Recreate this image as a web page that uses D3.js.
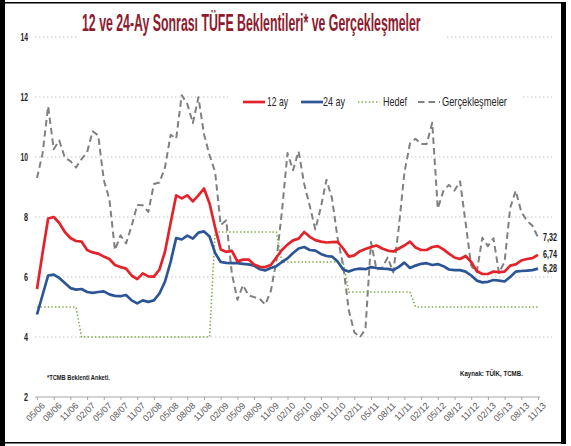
<!DOCTYPE html>
<html>
<head>
<meta charset="utf-8">
<script src="https://cdn.jsdelivr.net/npm/d3@7"></script>
<style>
  html, body { margin: 0; padding: 0; background: #fff; }
  svg { display: block; }
  text { font-family: "Liberation Sans Narrow", "Liberation Sans", Arial, sans-serif; }
</style>
</head>
<body>
<svg id="chart" width="571" height="446"></svg>
<script>
// x axis labels, one every 3 months starting at 05/06
const tickLabels = ["05/06", "08/06", "11/06", "02/07", "05/07", "08/07", "11/07", "02/08", "05/08", "08/08",
    "11/08", "02/09", "05/09", "08/09", "11/09", "02/10", "05/10", "08/10", "11/10", "02/11", "05/11",
    "08/11", "11/11", "02/12", "05/12", "08/12", "11/12", "02/13", "05/13", "08/13", "11/13"];
const yTicks = [2, 4, 6, 8, 10, 12, 14];

// monthly values, 05/06 .. 11/13
const beklenti12 = [5.6, 6.8, 7.95, 8.0, 7.8, 7.5, 7.3, 7.2, 7.18, 6.9, 6.82, 6.78, 6.68, 6.6, 6.4, 6.33,
    6.28, 6.05, 5.93, 6.12, 6.02, 6.01, 6.25, 6.85, 7.8, 8.72, 8.62, 8.72, 8.52, 8.72, 8.95, 8.45,
    7.65, 6.92, 6.84, 6.87, 6.52, 6.58, 6.58, 6.42, 6.34, 6.33, 6.4, 6.65, 6.9, 7.08, 7.22, 7.28,
    7.5, 7.34, 7.23, 7.18, 7.15, 7.16, 7.17, 6.95, 6.68, 6.72, 6.86, 6.93, 7.0, 7.05, 6.95, 6.88,
    6.85, 6.95, 7.05, 7.18, 6.98, 6.9, 6.9, 7.0, 7.03, 6.92, 6.78, 6.65, 6.6, 6.7, 6.5, 6.2,
    6.1, 6.1, 6.18, 6.16, 6.18, 6.38, 6.42, 6.55, 6.6, 6.63, 6.74];
const beklenti24 = [4.75, 5.4, 6.05, 6.08, 5.97, 5.8, 5.63, 5.58, 5.6, 5.5, 5.47, 5.5, 5.52, 5.42, 5.37, 5.36,
    5.4, 5.22, 5.12, 5.22, 5.17, 5.22, 5.45, 5.85, 6.5, 7.3, 7.25, 7.38, 7.28, 7.48, 7.52, 7.35,
    6.8, 6.5, 6.47, 6.46, 6.46, 6.44, 6.42, 6.38, 6.26, 6.22, 6.3, 6.36, 6.5, 6.62, 6.8, 6.95,
    7.0, 6.9, 6.88, 6.77, 6.7, 6.68, 6.52, 6.25, 6.18, 6.25, 6.28, 6.26, 6.33, 6.3, 6.28, 6.27,
    6.23, 6.34, 6.48, 6.3, 6.38, 6.44, 6.46, 6.4, 6.43, 6.36, 6.25, 6.23, 6.23, 6.18, 6.05, 5.88,
    5.82, 5.84, 5.9, 5.88, 5.85, 6.0, 6.18, 6.2, 6.21, 6.23, 6.28];
const hedef = [5, 5, 5, 5, 5, 5, 5, 5,
    4, 4, 4, 4, 4, 4, 4, 4, 4, 4, 4, 4, 4, 4, 4, 4, 4, 4, 4, 4, 4, 4, 4, 4,
    7.5, 7.5, 7.5, 7.5, 7.5, 7.5, 7.5, 7.5, 7.5, 7.5, 7.5, 7.5,
    6.5, 6.5, 6.5, 6.5, 6.5, 6.5, 6.5, 6.5, 6.5, 6.5, 6.5, 6.5,
    5.5, 5.5, 5.5, 5.5, 5.5, 5.5, 5.5, 5.5, 5.5, 5.5, 5.5, 5.5,
    5, 5, 5, 5, 5, 5, 5, 5, 5, 5, 5, 5, 5, 5, 5, 5, 5, 5, 5, 5, 5, 5, 5];
const gerceklesme = [9.3, 10.12, 11.69, 10.26, 10.55, 9.98, 9.86, 9.65,
    9.93, 10.16, 10.86, 10.72, 9.23, 8.6, 6.9, 7.39, 7.12, 7.7, 8.4, 8.39,
    8.17, 9.1, 9.15, 9.66, 10.74, 10.61, 12.06, 11.77, 11.13, 11.99, 10.76, 10.06,
    9.5, 7.73, 7.89, 6.13, 5.24, 5.73, 5.39, 5.33, 5.27, 5.08, 5.53, 6.53,
    8.19, 10.13, 9.56, 10.19, 9.1, 8.37, 7.58, 8.33, 9.24, 8.62, 7.29, 6.4,
    4.9, 4.16, 3.99, 4.26, 7.17, 6.24, 6.31, 6.65, 6.15, 7.66, 9.48, 10.45,
    10.61, 10.43, 10.43, 11.14, 8.28, 8.87, 9.07, 8.88, 9.19, 7.8, 6.37, 6.16,
    7.31, 7.03, 7.29, 6.13, 6.51, 8.3, 8.88, 8.17, 7.88, 7.71, 7.32];

const series = [
    {name: "12 ay", values: beklenti12, color: "#e3232b", width: 2.7, dash: null},
    {name: "24 ay", values: beklenti24, color: "#2c5596", width: 2.7, dash: null},
    {name: "Hedef", values: hedef, color: "#7da842", width: 1.6, dash: "1.4,2.2"},
    {name: "Gerçekleşmeler", values: gerceklesme, color: "#808080", width: 2, dash: "6.5,4"}
];

const svg = d3.select("#chart");
let x = d3.scaleLinear().domain([0, beklenti12.length - 1]).range([37, 538]);
let y = d3.scaleLinear().domain([2, 14]).range([397, 37]);

// the original picture is compressed sideways, so texts are squeezed to fit a width
function fitWidth(sel, w) {
    sel.each(function () {
        let t = d3.select(this);
        let len = this.getComputedTextLength();
        let k = (typeof w === "function" ? w.apply(this, arguments) : w) / len;
        let x0 = +t.attr("x"), y0 = +t.attr("y");
        t.attr("x", 0).attr("y", 0)
            .attr("transform", `translate(${x0},${y0}) scale(${k},1)`);
    });
}

svg.append("rect").attr("width", 571).attr("height", 446).attr("fill", "#fff");

// gridlines
svg.append("g").selectAll("line")
    .data(yTicks.filter(d => d > 2))
    .join("line")
    .attr("x1", 35).attr("x2", 552)
    .attr("y1", d => y(d)).attr("y2", d => y(d))
    .attr("stroke", "#c4c4c4")
    .attr("stroke-width", 1)
    .attr("stroke-dasharray", "1.5,2.5");

// x axis
let xAxis = svg.append("g")
    .attr("transform", `translate(0,${y(2)})`)
    .call(d3.axisBottom(x)
        .tickValues(d3.range(0, beklenti12.length, 3))
        .tickFormat((d, i) => tickLabels[i])
        .tickSize(3)
        .tickSizeOuter(0));
xAxis.select(".domain").remove();
xAxis.append("line").attr("x1", 35).attr("x2", 540).attr("stroke", "#a6a6a6");
xAxis.selectAll(".tick line").attr("stroke", "#a6a6a6");
xAxis.selectAll(".tick text")
    .attr("fill", "#595959")
    .style("font-size", "9px")
    .attr("text-anchor", "end")
    .attr("dy", "0.3em")
    .attr("transform", "translate(2,3) rotate(-45)");

// y axis labels
let yAxis = svg.append("g")
    .attr("transform", "translate(28,0)")
    .call(d3.axisLeft(y).tickValues(yTicks).tickSize(0).tickPadding(0));
yAxis.select(".domain").remove();
yAxis.selectAll(".tick text")
    .attr("fill", "#262626")
    .style("font-size", "10px")
    .style("font-weight", "bold")
    .attr("textLength", d => d >= 10 ? 7.5 : 4)
    .attr("lengthAdjust", "spacingAndGlyphs");

// series lines
let line = d3.line().x((d, i) => x(i)).y(d => y(d));
svg.append("g").selectAll("path")
    .data(series.slice().reverse())
    .join("path")
    .attr("d", d => line(d.values))
    .attr("fill", "none")
    .attr("stroke", d => d.color)
    .attr("stroke-width", d => d.width)
    .attr("stroke-dasharray", d => d.dash)
    .attr("stroke-linejoin", "round");

// end labels
let endData = [gerceklesme, beklenti12, beklenti24];
svg.append("g").selectAll("text")
    .data(endData)
    .join("text")
    .attr("x", 543)
    .attr("y", d => y(d[d.length - 1]))
    .attr("dy", "0.35em")
    .attr("fill", "#1a1a1a")
    .style("font-size", "10px")
    .style("font-weight", "bold")
    .text(d => d[d.length - 1].toFixed(2).replace(".", ","))
    .call(fitWidth, 14);

// title
svg.append("rect").attr("x", 77).attr("y", 6).attr("width", 370).attr("height", 36).attr("fill", "#fff");
svg.append("text")
    .attr("x", 82).attr("y", 31)
    .attr("fill", "#8e1b2f")
    .style("font-size", "23px")
    .style("font-weight", "bold")
    .text("12 ve 24-Ay Sonrası TÜFE Beklentileri* ve Gerçekleşmeler")
    .call(fitWidth, 339);

// legend
const legendPos = [{lx: 243, tx: 267, tw: 21}, {lx: 301, tx: 323, tw: 22},
    {lx: 358, tx: 383, tw: 24}, {lx: 418, tx: 442, tw: 65}];
svg.append("rect").attr("x", 228).attr("y", 88).attr("width", 294).attr("height", 27).attr("fill", "#fff");
let legend = svg.append("g").selectAll("g")
    .data(series)
    .join("g");
legend.append("line")
    .attr("x1", (d, i) => legendPos[i].lx)
    .attr("x2", (d, i) => legendPos[i].lx + 22)
    .attr("y1", 102).attr("y2", 102)
    .attr("stroke", d => d.color)
    .attr("stroke-width", d => d.width)
    .attr("stroke-dasharray", d => d.dash);
legend.append("text")
    .attr("x", (d, i) => legendPos[i].tx)
    .attr("y", 102)
    .attr("dy", "0.35em")
    .attr("fill", "#262626")
    .style("font-size", "12px")
    .text(d => d.name)
    .call(fitWidth, (d, i) => legendPos[i].tw);

// notes
svg.append("text")
    .attr("x", 47).attr("y", 377).attr("dy", "0.35em")
    .attr("fill", "#1a1a1a")
    .style("font-size", "8px")
    .style("font-weight", "bold")
    .text("*TCMB Beklenti Anketi.")
    .call(fitWidth, 63);
svg.append("text")
    .attr("x", 460).attr("y", 373).attr("dy", "0.35em")
    .attr("fill", "#1a1a1a")
    .style("font-size", "8px")
    .style("font-weight", "bold")
    .text("Kaynak: TÜİK, TCMB.")
    .call(fitWidth, 63);

// frame
svg.append("rect").attr("x", 0).attr("y", 0).attr("width", 5).attr("height", 446).attr("fill", "#000");
svg.append("rect").attr("x", 5).attr("y", 2).attr("width", 560).attr("height", 1.5).attr("fill", "#000");
svg.append("rect").attr("x", 561).attr("y", 2).attr("width", 5).attr("height", 442).attr("fill", "#000");
svg.append("rect").attr("x", 5).attr("y", 442).attr("width", 561).attr("height", 1.5).attr("fill", "#000");
</script>
</body>
</html>
